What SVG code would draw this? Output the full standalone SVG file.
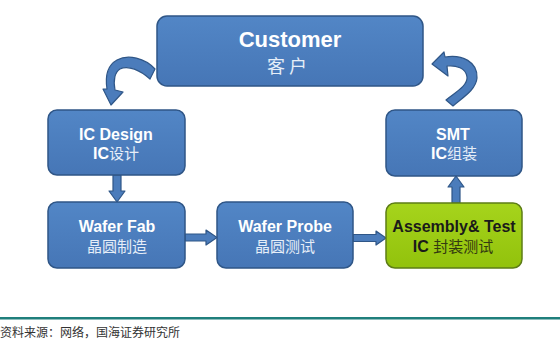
<svg xmlns="http://www.w3.org/2000/svg" width="560" height="359" viewBox="0 0 560 359">
<defs>
<linearGradient id="gb" x1="0" y1="0" x2="0" y2="1">
<stop offset="0" stop-color="#5286c6"/>
<stop offset="1" stop-color="#4676b6"/>
</linearGradient>
<linearGradient id="gg" x1="0" y1="0" x2="0" y2="1">
<stop offset="0" stop-color="#a6d41c"/>
<stop offset="1" stop-color="#92c20c"/>
</linearGradient>
</defs>
<style>
.box{fill:url(#gb);stroke:#2f5687;stroke-width:1.5}
.gbox{fill:url(#gg);stroke:#5d7d16;stroke-width:1.5}
.arr{fill:#4b7cbb;stroke:#2f5687;stroke-width:1.2;stroke-linejoin:round}
.en{font-family:"Liberation Sans",Arial,sans-serif;font-weight:bold;fill:#ffffff;text-anchor:middle}
.cn{font-family:"Noto Sans CJK SC",sans-serif;font-weight:normal;fill:#e6eef8}
.t{font-size:16px}
.dk{fill:#1a1a1a}
.dkc{fill:#333a10}
</style>
<rect width="560" height="359" fill="#ffffff"/>
<g id="connectors">
<path class="arr" d="M155,69 C145,58 128,54 117,60 C108,65 105,76 107,89 L103,89 L111,105 L123,92 L115,90 C113,80 115,72 120,69 C128,65 140,70 150,79 Z"/>
<path class="arr" d="M447,66 L448,76 L432,64 L444,52 L445,57 C462,54 478,62 477,78 C476,90 462,98 453,106 L446,100 C454,93 468,86 467,77 C466,68 456,65 447,66 Z"/>
<path class="arr" d="M113,175 L121,175 L121,191 L125,191 L117,202 L109,191 L113,191 Z"/>
<path class="arr" d="M185,234 L206,234 L206,230 L217,237.5 L206,245 L206,241 L185,241 Z"/>
<path class="arr" d="M353,234.5 L376,234.5 L376,231 L386,238 L376,245 L376,241.5 L353,241.5 Z"/>
<path class="arr" d="M452,203 L452,187 L448,187 L456,176 L464,187 L460,187 L460,203 Z"/>
</g>
<g id="customer">
<rect class="box" x="157" y="16" width="266" height="70" rx="10"/>
<text class="en" x="290" y="47" font-size="22">Customer</text>
<text class="cn" x="287" y="73" font-size="18" text-anchor="middle">客 户</text>
</g>
<g id="ic-design">
<rect class="box" x="48" y="110" width="137" height="65" rx="9"/>
<text class="en t" x="116" y="140">IC Design</text>
<text class="en t" x="116" y="159">IC<tspan class="cn" font-size="15">设计</tspan></text>
</g>
<g id="smt">
<rect class="box" x="386" y="110" width="136" height="66" rx="9"/>
<text class="en t" x="453" y="140">SMT</text>
<text class="en t" x="454" y="159">IC<tspan class="cn" font-size="15">组装</tspan></text>
</g>
<g id="wafer-fab">
<rect class="box" x="48" y="202" width="137" height="66" rx="9"/>
<text class="en t" x="117" y="232">Wafer Fab</text>
<text class="cn" x="117" y="252" font-size="15" text-anchor="middle">晶圆制造</text>
</g>
<g id="wafer-probe">
<rect class="box" x="217" y="202" width="136" height="66" rx="9"/>
<text class="en t" x="285" y="232">Wafer Probe</text>
<text class="cn" x="285" y="252" font-size="15" text-anchor="middle">晶圆测试</text>
</g>
<g id="assembly-test">
<rect class="gbox" x="386" y="203" width="136" height="65" rx="9"/>
<text class="en t dk" x="454" y="232">Assembly&amp; Test</text>
<text class="en t dk" x="453" y="252">IC <tspan class="cn dkc" font-size="15">封装测试</tspan></text>
</g>
<g id="footer">
<rect x="0" y="317" width="560" height="2.5" fill="#1f7f7c"/>
<text x="0" y="337" font-family="'Noto Sans CJK SC',sans-serif" font-size="12" fill="#333333">资料来源：网络，国海证券研究所</text>
</g>
</svg>
